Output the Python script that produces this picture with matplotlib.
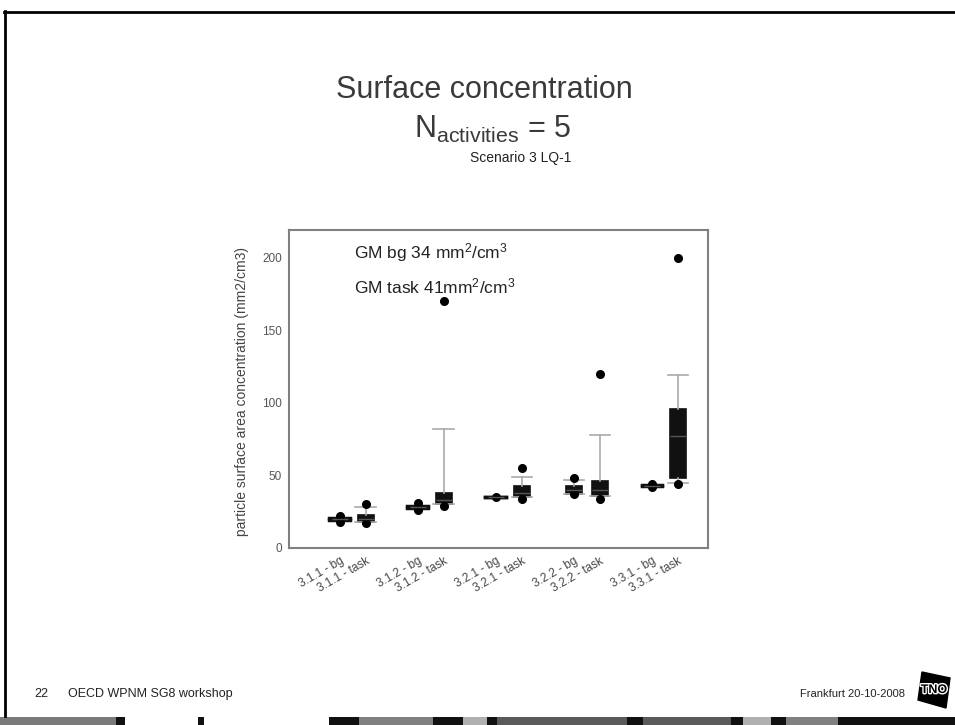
import matplotlib.pyplot as plt
from matplotlib.patches import Rectangle, Polygon
from matplotlib.lines import Line2D
import matplotlib.patheffects as pe

plt.rcParams['font.family'] = ['Liberation Sans', 'DejaVu Sans']
plt.rcParams['mathtext.fontset'] = 'custom'
plt.rcParams['mathtext.rm'] = 'Liberation Sans'
plt.rcParams['mathtext.it'] = 'Liberation Sans:italic'

# data
labels = ['3.1.1 - bg', '3.1.1 - task', '3.1.2 - bg', '3.1.2 - task',
          '3.2.1 - bg', '3.2.1 - task', '3.2.2 - bg', '3.2.2 - task',
          '3.3.1 - bg', '3.3.1 - task']
q1 = [19.5, 18, 27.5, 30, 34.6, 35, 37, 36, 42.6, 48]
med = [20, 20, 28, 33, 35, 38, 40, 40, 43, 77]
q3 = [20.5, 23, 29, 38, 35.4, 43, 43, 46, 43.4, 96]
whislo = [19.5, 18, 27.5, 30, 35, 35, 37, 36, 43, 45]
whishi = [20.5, 28, 29, 82, 35, 49, 47, 78, 43.4, 119]
fliers = [[18, 22], [17, 30], [26, 31], [29, 170], [35],
          [34, 55], [37, 48], [34, 120], [42, 44], [44, 200]]
positions = [0, 1, 3, 4, 6, 7, 9, 10, 12, 13]
yticks = [0, 50, 100, 150, 200]

stats = []
for i in range(len(labels)):
    stats.append({'label': labels[i], 'q1': q1[i], 'med': med[i], 'q3': q3[i],
                  'whislo': whislo[i], 'whishi': whishi[i], 'fliers': fliers[i]})

fig = plt.figure(figsize=(9.55, 7.25), dpi=100)
W, H = 955, 725


def fx(px):
    return px / W


def fy(py):
    return 1 - py / H


# slide frame
fig.add_artist(Line2D([fx(4), 1], [fy(12), fy(12)], color='black', lw=2))
fig.add_artist(Line2D([fx(5), fx(5)], [fy(11), fy(716)], color='black', lw=2))

# bottom strip
strip = [(0, .121, '#7a7a7a'), (.121, .131, '#111111'), (.131, .207, '#ffffff'),
         (.207, .214, '#111111'), (.214, .344, '#ffffff'), (.344, .376, '#111111'),
         (.376, .453, '#808080'), (.453, .485, '#111111'), (.485, .510, '#b0b0b0'),
         (.510, .520, '#111111'), (.520, .657, '#5a5a5a'), (.657, .673, '#111111'),
         (.673, .765, '#5a5a5a'), (.765, .778, '#111111'), (.778, .807, '#b0b0b0'),
         (.807, .823, '#111111'), (.823, .877, '#808080'), (.877, 1.0, '#111111')]
for a, b, c in strip:
    fig.add_artist(Rectangle((a, 0), b - a, fy(717), color=c, lw=0))

# titles
fig.text(fx(484), fy(90), 'Surface concentration', ha='center', va='center',
         fontsize=22, color='#3a3a3a')
fig.text(fx(493), fy(129), r'N$_{\mathrm{activities}}$ = 5', ha='center', va='center',
         fontsize=22, color='#3a3a3a')
fig.text(fx(521), fy(158), 'Scenario 3 LQ-1', ha='center', va='center',
         fontsize=10, color='#222222')

ax = fig.add_axes([fx(289), fy(548), fx(708) - fx(289), fy(230) - fy(548)])
bp = ax.bxp(stats, positions=positions, widths=0.6, capwidths=0.8,
            patch_artist=True, showfliers=True)
for box in bp['boxes']:
    box.set_facecolor('#111111')
    box.set_edgecolor('#111111')
    box.set_linewidth(1.2)
for m in bp['medians']:
    m.set_color('#555555')
    m.set_linewidth(1)
for w in bp['whiskers']:
    w.set_color('#aaaaaa')
    w.set_linewidth(1.2)
for i, c in enumerate(bp['caps']):
    k = i // 2
    if whishi[k] - whislo[k] < 2:
        c.set_color('#111111')
        c.set_linewidth(2.5)
    else:
        c.set_color('#aaaaaa')
        c.set_linewidth(1.2)
for f in bp['fliers']:
    f.set_marker('o')
    f.set_markerfacecolor('black')
    f.set_markeredgecolor('black')
    f.set_markersize(5.5)

ax.set_xlim(-1.95, 14.15)
ax.set_ylim(0, 219)
ax.set_yticks(yticks)
ax.tick_params(axis='both', length=0, labelsize=8.5, labelcolor='#555555', pad=5)
ax.set_xticks(positions)
ax.set_xticklabels(labels, rotation=30, ha='right', va='top',
                   rotation_mode='anchor', color='#444444', fontsize=8.5)
for s in ax.spines.values():
    s.set_color('#808080')
    s.set_linewidth(1.5)

ax.text(0.155, 0.965, r'GM bg 34 mm$^{2}$/cm$^{3}$', transform=ax.transAxes,
        fontsize=12.5, color='#222222', va='top')
ax.text(0.155, 0.855, r'GM task 41mm$^{2}$/cm$^{3}$', transform=ax.transAxes,
        fontsize=12.5, color='#222222', va='top')

fig.text(fx(242), fy(391), 'particle surface area concentration (mm2/cm3)',
         rotation=90, ha='center', va='center', fontsize=10, color='#444444')

# footer
fig.text(fx(34), fy(694), '22', fontsize=9, va='center', color='#222222')
fig.text(fx(68), fy(694), 'OECD WPNM SG8 workshop', fontsize=9,
         va='center', color='#222222')
fig.text(fx(905), fy(694), 'Frankfurt 20-10-2008', fontsize=8, stretch='condensed',
         va='center', ha='right', color='#222222')

# logo
fig.add_artist(Polygon([[fx(922), fy(672)], [fx(950), fy(678)],
                        [fx(946), fy(708)], [fx(918), fy(700)]],
                       closed=True, color='black'))
fig.text(fx(934), fy(690), 'TNO', fontsize=9, weight='bold', ha='center', va='center',
         color='black', path_effects=[pe.withStroke(linewidth=2, foreground='white')])

fig.savefig('out.png', dpi=100)
